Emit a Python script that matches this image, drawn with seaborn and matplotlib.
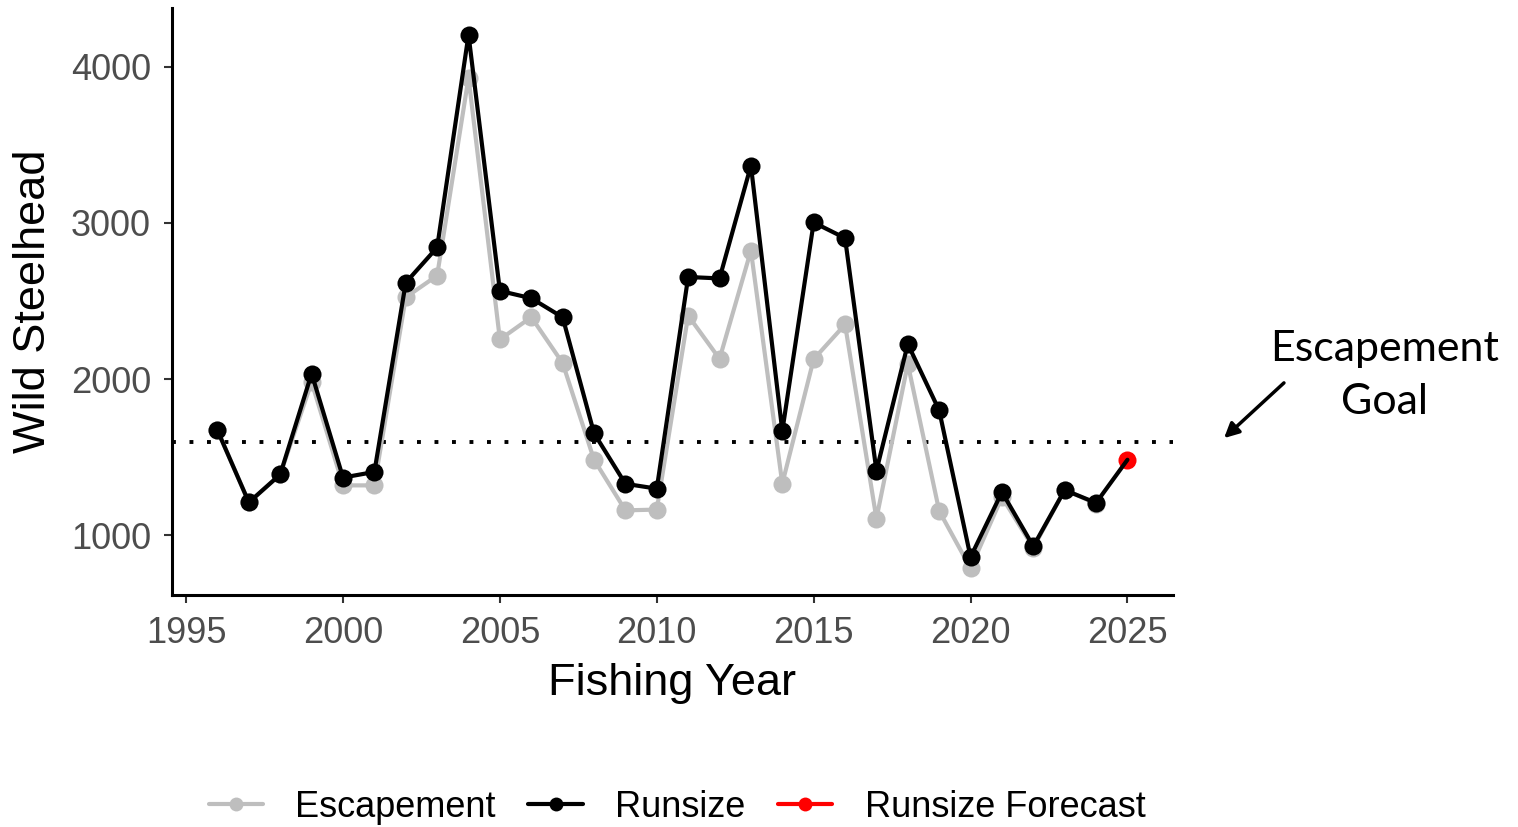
import pandas as pd
import matplotlib
matplotlib.use('Agg')
import matplotlib.pyplot as plt
from matplotlib.lines import Line2D
import seaborn as sns

years = list(range(1996, 2025))
escapement = [1672, 1211, 1390, 1981, 1320, 1320, 2524, 2663, 3930, 2254,
              2397, 2103, 1484, 1160, 1165, 2407, 2130, 2823, 1331, 2128,
              2350, 1107, 2098, 1156, 789, 1245, 920, 1292, 1203]
runsize = [1672, 1211, 1390, 2036, 1370, 1406, 2618, 2843, 4205, 2565,
           2518, 2396, 1654, 1330, 1299, 2654, 2645, 3367, 1668, 3003,
           2903, 1414, 2225, 1800, 861, 1277, 930, 1290, 1208]
forecast_year = 2025
forecast_value = 1484
escapement_goal = 1600

df = pd.DataFrame({
    'year': years * 2,
    'count': escapement + runsize,
    'series': ['Escapement'] * len(years) + ['Runsize'] * len(years),
})
# runsize line runs on to the forecast point
df_fc = pd.DataFrame({'year': [2024, forecast_year],
                      'count': [runsize[-1], forecast_value],
                      'series': ['Runsize', 'Runsize']})

sns.set_style('white')
plt.rcParams['font.family'] = ['Liberation Sans', 'DejaVu Sans']

fig, ax = plt.subplots(figsize=(15.18, 8.27), dpi=100)
fig.subplots_adjust(left=0.1133, right=0.7727, top=0.9903, bottom=0.2805)

pal = {'Escapement': '#BEBEBE', 'Runsize': 'black'}
sns.lineplot(data=df[df.series == 'Escapement'], x='year', y='count', color=pal['Escapement'],
             marker='o', markersize=13, markeredgewidth=0, linewidth=3, ax=ax, zorder=2)
sns.lineplot(data=df[df.series == 'Runsize'], x='year', y='count', color=pal['Runsize'],
             marker='o', markersize=13, markeredgewidth=0, linewidth=3, ax=ax, zorder=3)
sns.lineplot(data=df_fc, x='year', y='count', color='black', linewidth=3, ax=ax, zorder=4)
ax.plot([forecast_year], [forecast_value], 'o', color='#FF0000', markersize=13,
        markeredgewidth=0, zorder=3.5)

ax.axhline(escapement_goal, color='black', linestyle=(0, (1, 3.5)), linewidth=2.8, zorder=1)

ax.set_xlim(1994.55, 2026.45)
ax.set_ylim(618, 4376)
ax.set_xticks([1995, 2000, 2005, 2010, 2015, 2020, 2025])
ax.set_yticks([1000, 2000, 3000, 4000])

ax.spines['top'].set_visible(False)
ax.spines['right'].set_visible(False)
for s in ['left', 'bottom']:
    ax.spines[s].set_linewidth(2.2)
    ax.spines[s].set_color('black')
ax.tick_params(axis='both', which='major', length=6, width=1.5, color='#333333',
               labelsize=26, labelcolor='#4D4D4D', pad=9, left=True, bottom=True)

ax.set_xlabel('Fishing Year', fontsize=32.5, labelpad=9, color='black')
ax.set_ylabel('Wild Steelhead', fontsize=32.5, labelpad=12, color='black')

handles = [
    Line2D([], [], color='#BEBEBE', linewidth=3, marker='o', markersize=10, markeredgewidth=0),
    Line2D([], [], color='black', linewidth=3, marker='o', markersize=10, markeredgewidth=0),
    Line2D([], [], color='#FF0000', linewidth=3, marker='o', markersize=10, markeredgewidth=0),
]
leg = fig.legend(handles, ['Escapement', 'Runsize', 'Runsize Forecast'], loc='center',
                 bbox_to_anchor=(0.446, 0.024), ncol=3, frameon=False, fontsize=26,
                 handlelength=1.5, handletextpad=0.9, columnspacing=0.9)
for t in leg.get_texts():
    t.set_color('black')

fig.text(0.912, 0.546, 'Escapement\nGoal', ha='center', va='center', fontsize=31,
         family=['Lato', 'DejaVu Sans'], linespacing=1.5, color='black')
ax.annotate('', xy=(1222, 827 - 440), xycoords='figure pixels',
            xytext=(1286, 827 - 381), textcoords='figure pixels',
            arrowprops=dict(arrowstyle='-|>', color='black', lw=2.5, mutation_scale=22))

fig.savefig('out.png', dpi=100)
